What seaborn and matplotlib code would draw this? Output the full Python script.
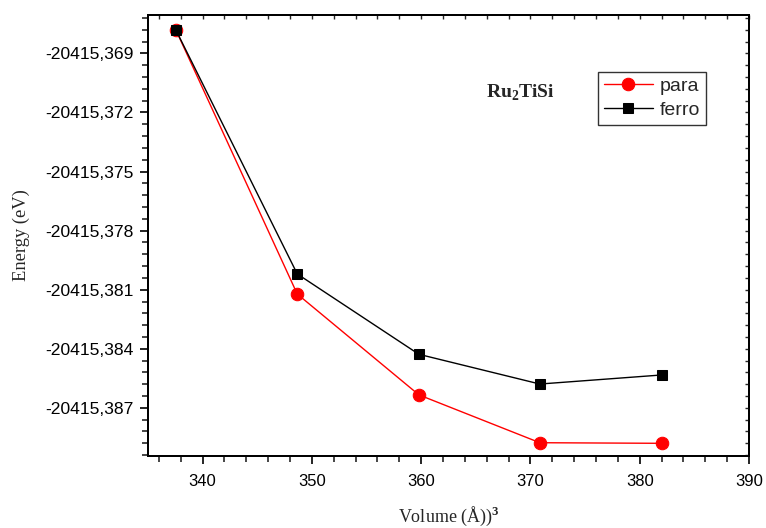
import numpy as np
import pandas as pd
import matplotlib
matplotlib.use("Agg")
import matplotlib.pyplot as plt
import seaborn as sns
from matplotlib.ticker import FixedLocator, MultipleLocator, FuncFormatter

# Dati
volume = [337.56, 348.66, 359.79, 370.86, 382.0]
energy_para = [-20415.36782, -20415.38122, -20415.38634, -20415.38877, -20415.38880]
energy_ferro = [-20415.36782, -20415.38020, -20415.38428, -20415.38579, -20415.38533]
y_ticks = [-20415.369, -20415.372, -20415.375, -20415.378, -20415.381, -20415.384, -20415.387]
x_ticks = [340, 350, 360, 370, 380, 390]

df = pd.DataFrame({
    "volume": volume * 2,
    "energy": energy_para + energy_ferro,
    "phase": ["para"] * len(volume) + ["ferro"] * len(volume),
})

sns.set_theme(style="ticks")
plt.rcParams["font.family"] = ["Liberation Sans", "DejaVu Sans"]
plt.rcParams["mathtext.fontset"] = "custom"
plt.rcParams["mathtext.rm"] = "Liberation Serif"
plt.rcParams["mathtext.bf"] = "Liberation Serif:bold"

fig = plt.figure(figsize=(7.66, 5.28), dpi=100)
ax = fig.add_axes([0.1932, 0.1369, 0.7846, 0.8347])

sns.lineplot(data=df[df.phase == "para"], x="volume", y="energy", ax=ax,
             color="#ff0000", marker="o", markersize=9, markeredgecolor="#ff0000",
             linewidth=1, label="para", zorder=2)
sns.lineplot(data=df[df.phase == "ferro"], x="volume", y="energy", ax=ax,
             color="black", marker="s", markersize=7.5, markeredgecolor="black",
             linewidth=1, label="ferro", zorder=3)

ylim = (-20415.38943, -20415.36705)
y_minor = np.arange(-20415.3894, -20415.3670, 0.0006)
ax.set_xlim(335, 390)
ax.set_ylim(*ylim)
ax.xaxis.set_major_locator(FixedLocator(x_ticks))
ax.xaxis.set_minor_locator(MultipleLocator(2))
ax.yaxis.set_major_locator(FixedLocator(y_ticks))
ax.yaxis.set_minor_locator(FixedLocator(y_minor))
ax.yaxis.set_major_formatter(FuncFormatter(lambda v, p: f"{v:.3f}".replace(".", ",")))

ax.tick_params(axis="both", which="major", direction="out", length=6, width=1.2, colors="black")
ax.tick_params(axis="both", which="minor", direction="out", length=4, width=1.2)
ax.tick_params(axis="y", labelsize=12.6, pad=4.5)
ax.tick_params(axis="x", labelsize=12, pad=7.5)

# tacche interne sui lati superiore e destro
topax = ax.twiny()
topax.set_xlim(ax.get_xlim())
topax.xaxis.set_major_locator(MultipleLocator(2))
topax.tick_params(axis="x", direction="in", length=3, width=1, labeltop=False)
rightax = ax.twinx()
rightax.set_ylim(*ylim)
rightax.yaxis.set_major_locator(FixedLocator(y_minor))
rightax.tick_params(axis="y", direction="in", length=3, width=1, labelright=False)

for a in (ax, topax, rightax):
    for s in a.spines.values():
        s.set_linewidth(1.2)
        s.set_color("black")

ax.set_xlabel("Volume (Å))$^\\mathbf{3}$", family="Liberation Serif", fontsize=13, labelpad=11)
ax.set_ylabel("Energy (eV)", family="Liberation Serif", fontsize=13.3, labelpad=11)

ax.text(0.619, 0.823, "Ru$_\\mathbf{2}$TiSi", transform=ax.transAxes, family="Liberation Serif",
        fontsize=14, fontweight="bold", ha="center", va="center")

leg = ax.legend(loc="upper right", bbox_to_anchor=(0.928, 0.871), borderaxespad=0,
                frameon=True, fancybox=False, fontsize=14, handlelength=2.5,
                handletextpad=0.35, borderpad=0.3, labelspacing=0.3)
leg.get_frame().set_edgecolor("black")
leg.get_frame().set_linewidth(1.0)

fig.savefig("out.png", dpi=100)
